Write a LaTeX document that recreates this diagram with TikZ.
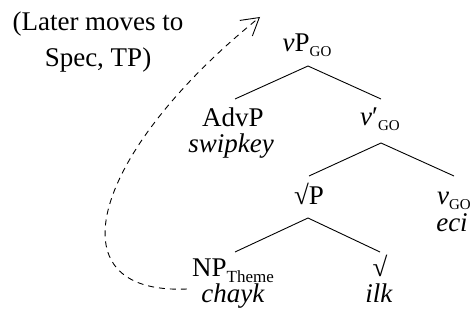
\documentclass[tikz,border=0pt]{standalone}
\usepackage{fontspec}
\setmainfont{Liberation Serif}
\usetikzlibrary{arrows.meta}
\newcommand{\sgo}{\raisebox{-5pt}{\fontsize{15}{15}\selectfont GO}}
\newcommand{\sth}{\raisebox{-6pt}{\fontsize{17}{17}\selectfont Theme}}
\begin{document}
\begin{tikzpicture}[x=1pt,y=-1pt,
  every node/.style={inner sep=0pt, font=\fontsize{27}{27}\selectfont, anchor=base},
  edge/.style={line width=0.9pt},
  move/.style={line width=0.9pt, dash pattern=on 6pt off 5pt,
    -{Straight Barb[length=17pt,width=20pt,line width=0.9pt]}}]
\useasboundingbox (0,0) rectangle (474,320);
% note
\node (n1) at (98,31) {(Later moves to};
\node (n2) at (98,67) {Spec, TP)};
% tree
\node (vp) at (307,52) {\textit{v}P\sgo};
\node (advp) at (233,126.5) {AdvP};
\node (advg) at (231,153) {\textit{swipkey}};
\node (vbar) at (380,126) {\textit{v}′\sgo};
\node (rootp) at (309,205) {√P};
\node (vgo) at (454,205) {\textit{v}\sgo};
\node (vgog) at (452,232) {\textit{eci}};
\node (np) at (233,277) {NP\sth};
\node (npg) at (233,303) {\textit{chayk}};
\node (root) at (380,277) {√};
\node (rootg) at (379,303) {\textit{ilk}};
% branches
\draw[edge] ([xshift=1pt,yshift=-14pt]vp.base) -- ([xshift=2pt,yshift=27.5pt]advp.base);
\draw[edge] ([xshift=1pt,yshift=-14pt]vp.base) -- ([xshift=1pt,yshift=27pt]vbar.base);
\draw[edge] ([xshift=1pt,yshift=-17pt]vbar.base) -- ([yshift=29pt]rootp.base);
\draw[edge] ([xshift=1pt,yshift=-17pt]vbar.base) -- ([yshift=29pt]vgo.base);
\draw[edge] ([xshift=-1pt,yshift=-13pt]rootp.base) -- ([xshift=2pt,yshift=25pt]np.base);
\draw[edge] ([xshift=-1pt,yshift=-13pt]rootp.base) -- ([yshift=25pt]root.base);
% movement arrow
\coordinate (tip) at (260,17);
\draw[move] ([xshift=-5pt,yshift=-12pt]np.base west) .. controls (48,295) and (95,150) .. (tip);
\end{tikzpicture}
\end{document}
